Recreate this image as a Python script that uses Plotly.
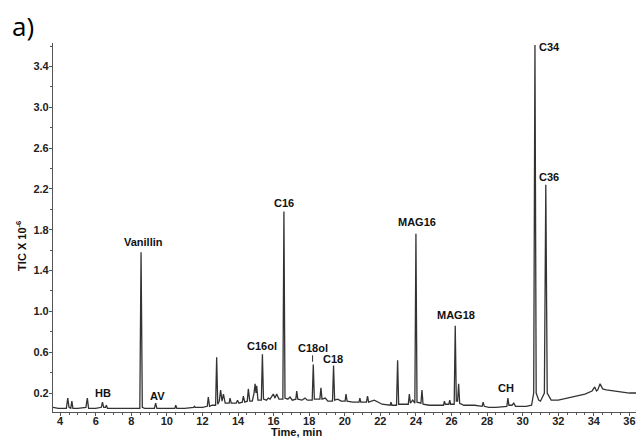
import plotly.graph_objects as go

# ---- chromatogram data (time in min, TIC x 10^-6) ----
time_a = [3.6, 3.9, 4.35, 4.43, 4.5, 4.6, 4.66, 4.72, 5.0, 5.45, 5.53, 5.6, 6.0,
          6.32, 6.38, 6.45, 6.55, 6.6, 6.66, 7.2, 8.0]
tic_a = [0.06, 0.05, 0.05, 0.15, 0.06, 0.05, 0.12, 0.05, 0.05, 0.06, 0.15, 0.05, 0.05,
         0.06, 0.11, 0.06, 0.06, 0.08, 0.05, 0.05, 0.05]

time_b = [8.48, 8.55, 8.62, 8.75, 9.3, 9.37, 9.44, 10.0, 10.45, 10.5, 10.56, 11.0,
          11.5, 11.55, 11.6, 12.0]
tic_b = [0.05, 1.58, 0.06, 0.05, 0.05, 0.10, 0.05, 0.05, 0.05, 0.08, 0.05, 0.05,
         0.06, 0.07, 0.06, 0.06]

time_c = [12.27, 12.33, 12.4, 12.55, 12.74, 12.8, 12.86, 12.95, 13.02, 13.1,
          13.18, 13.28, 13.5, 13.55, 13.62, 13.9, 13.97, 14.05, 14.24, 14.3,
          14.38, 14.52, 14.58, 14.66, 14.8, 14.9, 14.96, 15.01, 15.05, 15.12,
          15.31, 15.37, 15.43, 15.6, 15.7, 15.8, 15.98, 16.08, 16.17, 16.3]
tic_c = [0.07, 0.16, 0.07, 0.08, 0.08, 0.55, 0.09, 0.12, 0.23, 0.12,
         0.19, 0.10, 0.10, 0.15, 0.10, 0.10, 0.13, 0.10, 0.11, 0.17,
         0.11, 0.12, 0.24, 0.12, 0.12, 0.20, 0.29, 0.20, 0.27, 0.13,
         0.13, 0.58, 0.14, 0.13, 0.15, 0.14, 0.19, 0.15, 0.19, 0.14]

time_d = [16.52, 16.58, 16.64, 16.8, 16.92, 17.05, 17.25, 17.3, 17.36, 17.6,
          17.76, 17.9, 18.17, 18.23, 18.29, 18.4, 18.6, 18.66, 18.72, 18.9,
          19.05, 19.31, 19.37, 19.43, 19.6, 19.8, 20.02, 20.07, 20.13]
tic_d = [0.14, 1.98, 0.15, 0.14, 0.16, 0.13, 0.14, 0.22, 0.14, 0.13,
         0.15, 0.13, 0.13, 0.48, 0.14, 0.14, 0.14, 0.25, 0.14, 0.15,
         0.12, 0.12, 0.47, 0.13, 0.14, 0.12, 0.12, 0.19, 0.12]

time_e = [20.45, 20.8, 20.85, 20.9, 21.22, 21.28, 21.34, 21.66, 22.1, 22.55,
          22.6, 22.65, 22.91, 22.97, 23.03, 23.25, 23.57, 23.63, 23.69, 23.82,
          23.94, 24.0, 24.06, 24.28, 24.34, 24.4, 24.75, 25.1, 25.55, 25.6,
          25.65, 25.85, 25.9, 25.95, 26.15, 26.21, 26.27, 26.34, 26.4, 26.46, 26.7]
tic_e = [0.11, 0.11, 0.15, 0.11, 0.11, 0.17, 0.11, 0.13, 0.09, 0.08,
         0.11, 0.08, 0.08, 0.52, 0.09, 0.09, 0.09, 0.19, 0.10, 0.13,
         0.10, 1.76, 0.11, 0.10, 0.23, 0.09, 0.08, 0.08, 0.08, 0.12,
         0.09, 0.09, 0.13, 0.09, 0.09, 0.86, 0.12, 0.12, 0.29, 0.10, 0.08]

time_f = [27.3, 27.72, 27.78, 27.84, 28.1, 28.5, 29.11, 29.17, 29.23, 29.4,
          29.5, 29.6, 30.2, 30.5, 30.62, 30.69, 30.76, 30.9, 31.0, 31.22,
          31.3, 31.38, 31.6, 32.0, 32.5, 33.0, 33.5, 33.9, 34.05, 34.15,
          34.22, 34.35, 34.5, 34.7, 35.2, 35.7, 36.0, 36.4]
tic_f = [0.08, 0.07, 0.11, 0.07, 0.06, 0.06, 0.07, 0.15, 0.08, 0.08,
         0.10, 0.07, 0.07, 0.08, 0.20, 3.61, 0.20, 0.13, 0.12, 0.20,
         2.24, 0.20, 0.13, 0.13, 0.15, 0.17, 0.19, 0.22, 0.26, 0.22,
         0.23, 0.29, 0.24, 0.23, 0.22, 0.21, 0.20, 0.20]

# ---- peak labels ----
label_text = ["HB", "Vanillin", "AV", "C16ol", "C16", "C18ol", "C18",
              "MAG16", "MAG18", "CH", "C34", "C36"]
label_time = [6.42, 8.70, 9.46, 15.37, 16.60, 18.19, 19.35,
              24.07, 26.23, 29.06, 31.51, 31.47]
label_tic = [0.20, 1.68, 0.17, 0.66, 2.06, 0.64, 0.53,
             1.88, 0.96, 0.25, 3.59, 2.32]

time_all = time_a + time_b + time_c + time_d + time_e + time_f
tic_all = tic_a + tic_b + tic_c + tic_d + tic_e + tic_f

fig = go.Figure()
fig.add_trace(go.Scatter(x=time_all, y=tic_all, mode="lines",
                         line=dict(color="#333333", width=1.3),
                         hoverinfo="skip", showlegend=False))

lab_font = dict(family="Liberation Sans, Arial, sans-serif", size=11,
                color="#111111", weight="bold")
annotations = []
for txt, tx, ty in zip(label_text, label_time, label_tic):
    if txt == "C18ol":
        # label with a short leader mark pointing at the peak
        annotations.append(dict(x=tx, y=0.506, xref="x", yref="y",
                                text=txt, showarrow=True,
                                arrowhead=0, arrowwidth=1, arrowcolor="#333",
                                ax=0, ay=-14, font=lab_font))
    else:
        annotations.append(dict(x=tx, y=ty, xref="x", yref="y",
                                text=txt, showarrow=False, font=lab_font,
                                xanchor="center", yanchor="middle"))

annotations.append(dict(x=-0.055, y=0.45, xref="paper", yref="paper",
                        text="TIC X 10<sup>-6</sup>", textangle=-90,
                        xanchor="center", yanchor="middle",
                        showarrow=False, font=lab_font))
annotations.append(dict(x=0.417, y=-0.055, xref="paper", yref="paper",
                        text="Time, min", showarrow=False, font=lab_font,
                        xanchor="center", yanchor="middle"))
annotations.append(dict(x=-0.051, y=1.045, xref="paper", yref="paper",
                        text="a)", showarrow=False,
                        xanchor="center", yanchor="middle",
                        font=dict(family="Open Sans, Noto Sans, sans-serif",
                                  size=26, color="#000000")))

tick_font = dict(family="Liberation Sans, Arial, sans-serif", size=11,
                 color="#222222", weight="bold")
fig.update_layout(
    width=636, height=438,
    margin=dict(l=53, r=0, t=43, b=26),
    paper_bgcolor="white", plot_bgcolor="white",
    annotations=annotations,
    xaxis=dict(range=[3.6, 36.37], tick0=4, dtick=2, ticks="outside", ticklen=3,
               tickcolor="#555", tickwidth=1, showline=True, linecolor="#555",
               linewidth=1.2, showgrid=False, zeroline=False, automargin=False,
               tickfont=tick_font, ticklabelstandoff=-4,
               minor=dict(dtick=0.5, ticks="outside", ticklen=2, tickcolor="#555")),
    yaxis=dict(range=[0.014, 3.63], tick0=0.2, dtick=0.4, tickformat=".1f",
               ticks="outside", ticklen=3, tickcolor="#555", showline=True,
               linecolor="#555", linewidth=1.2, showgrid=False, zeroline=False,
               automargin=False, tickfont=tick_font, ticklabelstandoff=-2,
               minor=dict(tick0=0.2, dtick=0.2, ticks="outside", ticklen=2,
                          tickcolor="#555")),
)

fig.write_html("out.html", config={"displayModeBar": False},
               post_script="document.body.style.margin='0';document.body.style.overflow='hidden';")
